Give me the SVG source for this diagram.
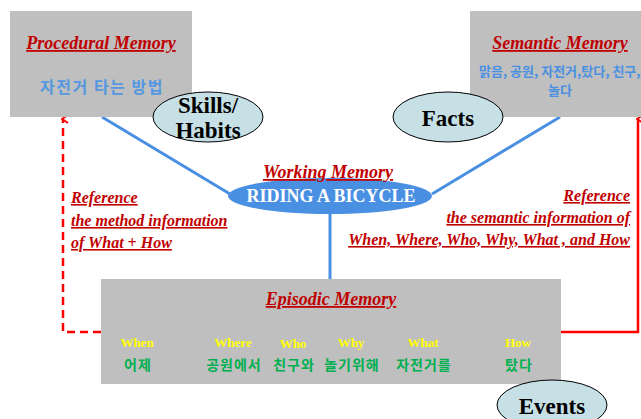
<svg xmlns="http://www.w3.org/2000/svg" width="641" height="419" viewBox="0 0 641 419">
<defs>
<style>
.box{fill:#bfbfbf}
.title{font-family:"Liberation Serif",serif;font-weight:bold;font-style:italic;fill:#c00000;text-decoration:underline;font-size:18px}
.ref{font-family:"Liberation Serif",serif;font-weight:bold;font-style:italic;fill:#c00000;text-decoration:underline;font-size:16px}
.kb{font-family:"Noto Sans CJK KR",sans-serif;font-weight:bold;fill:#4a90e2;font-size:13px}
.kp{font-family:"Noto Sans CJK KR",sans-serif;font-weight:bold;fill:#5597e0;font-size:16px;letter-spacing:1.5px}
.oval{fill:#c6e0e6;stroke:#000;stroke-width:1}
.ol{font-family:"Liberation Serif",serif;font-weight:bold;fill:#000;font-size:23px}
.blue{stroke:#4a90e2;stroke-width:3;fill:none}
.y{font-family:"Liberation Serif",serif;font-weight:bold;fill:#ffff00;font-size:13px}
.g{font-family:"Noto Sans CJK KR",sans-serif;font-weight:bold;fill:#00b050;font-size:14px;letter-spacing:1px}
</style>
<marker id="ah" viewBox="0 0 10 10" refX="5" refY="2" markerWidth="10" markerHeight="10" markerUnits="userSpaceOnUse" orient="auto-start-reverse">
<path d="M1,7 L5,1 L9,7" fill="none" stroke="#ff0000" stroke-width="2"/>
</marker>
</defs>
<g id="connectors">
<line class="blue" x1="102" y1="117" x2="230" y2="194"/>
<line class="blue" x1="560" y1="117" x2="432" y2="194"/>
<line class="blue" x1="330" y1="212" x2="330" y2="279"/>
<polyline points="101,332 63,332 63,119" fill="none" stroke="#ff0000" stroke-width="2.5" stroke-dasharray="8,5" marker-end="url(#ah)"/>
<polyline points="561,332 638,332 638,119" fill="none" stroke="#ff0000" stroke-width="2.5" marker-end="url(#ah)"/>
</g>
<g id="procedural">
<rect class="box" x="10" y="11" width="182" height="106"/>
<text class="title" x="101" y="49" text-anchor="middle">Procedural Memory</text>
<text class="kp" x="102" y="93" text-anchor="middle">자전거 타는 방법</text>
</g>
<g id="semantic">
<rect class="box" x="470" y="11" width="171" height="106"/>
<text class="title" x="560" y="49" text-anchor="middle">Semantic Memory</text>
<text class="kb" x="479" y="76">맑음, 공원, 자전거,탔다, 친구,</text>
<text class="kb" x="560" y="95" text-anchor="middle">놀다</text>
</g>
<g id="skills">
<ellipse class="oval" cx="208" cy="117" rx="55" ry="25"/>
<text class="ol" x="208" y="113" text-anchor="middle">Skills/</text>
<text class="ol" x="208" y="138" text-anchor="middle">Habits</text>
</g>
<g id="facts">
<ellipse class="oval" cx="448" cy="117" rx="55" ry="25"/>
<text class="ol" x="448" y="126" text-anchor="middle">Facts</text>
</g>
<g id="working">
<ellipse cx="330" cy="196" rx="102" ry="18" fill="#4a90e2"/>
<text class="title" x="328" y="178" text-anchor="middle">Working Memory</text>
<text x="331" y="202" text-anchor="middle" font-family="Liberation Serif,serif" font-weight="bold" font-size="18" fill="#ffffff">RIDING A BICYCLE</text>
</g>
<g id="ref-left">
<text class="ref" x="71" y="203">Reference </text>
<text class="ref" x="71" y="226">the method information</text>
<text class="ref" x="71" y="248">of What + How</text>
</g>
<g id="ref-right">
<text class="ref" x="630" y="201" text-anchor="end">Reference </text>
<text class="ref" x="630" y="223" text-anchor="end">the semantic information of</text>
<text class="ref" x="630" y="245" text-anchor="end">When, Where, Who, Why, What , and How</text>
</g>
<g id="episodic">
<rect class="box" x="101" y="279" width="460" height="105"/>
<text class="title" x="331" y="305" text-anchor="middle">Episodic Memory</text>
<text class="y" x="137" y="347" text-anchor="middle">When</text>
<text class="y" x="233" y="347" text-anchor="middle">Where</text>
<text class="y" x="293" y="348" text-anchor="middle">Who</text>
<text class="y" x="351" y="347" text-anchor="middle">Why</text>
<text class="y" x="423" y="347" text-anchor="middle">What</text>
<text class="y" x="518" y="347" text-anchor="middle">How</text>
<text class="g" x="138" y="370" text-anchor="middle">어제</text>
<text class="g" x="234" y="370" text-anchor="middle">공원에서</text>
<text class="g" x="294" y="370" text-anchor="middle">친구와</text>
<text class="g" x="352" y="370" text-anchor="middle">놀기위해</text>
<text class="g" x="424" y="370" text-anchor="middle">자전거를</text>
<text class="g" x="519" y="370" text-anchor="middle">탔다</text>
</g>
<g id="events">
<ellipse class="oval" cx="552" cy="405" rx="55" ry="25"/>
<text class="ol" x="552" y="414" text-anchor="middle">Events</text>
</g>
</svg>
